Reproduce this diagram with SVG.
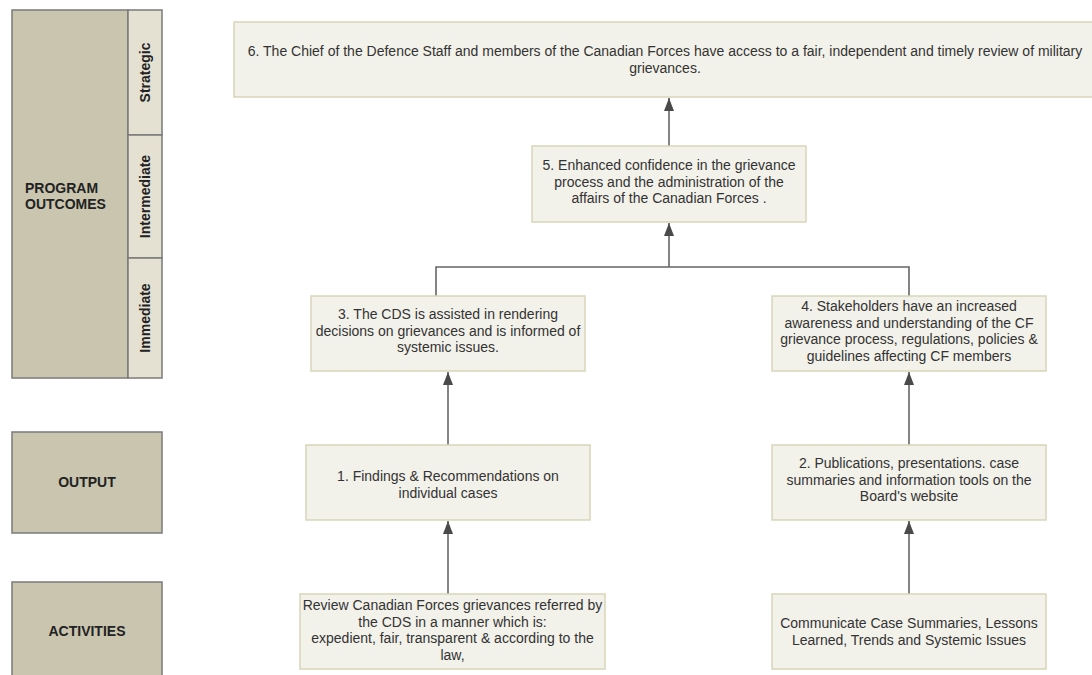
<svg xmlns="http://www.w3.org/2000/svg" width="1092" height="675" viewBox="0 0 1092 675">
<defs>
<style>
.lbl{fill:#c9c5af;stroke:#7a7a7a;stroke-width:1.5}
.strip{fill:#e4e1d3;stroke:#7a7a7a;stroke-width:1.5}
.node{fill:#f2f1ea;stroke:#d9d5ba;stroke-width:1.5}
.t{font-family:"Liberation Sans",Arial,sans-serif;font-size:14px;fill:#333;text-anchor:middle}
.b{font-family:"Liberation Sans",Arial,sans-serif;font-size:14px;font-weight:bold;fill:#222}
.c{stroke:#666;stroke-width:1.6;fill:none}
</style>
<marker id="ah" viewBox="0 0 13 10" refX="13" refY="5" markerWidth="13" markerHeight="10" markerUnits="userSpaceOnUse" orient="auto">
<path d="M0,0 L13,5 L0,10 Z" fill="#4a4a4a"/>
</marker>
</defs>
<rect width="1092" height="675" fill="#fff"/>

<g id="program-outcomes">
<rect class="lbl" x="12" y="10" width="116" height="368"/>
<text class="b" x="25" y="193">PROGRAM</text>
<text class="b" x="25" y="209">OUTCOMES</text>
</g>
<g id="strategic">
<rect class="strip" x="128" y="10" width="34" height="125"/>
<text class="b" transform="translate(150,72.5) rotate(-90)" text-anchor="middle">Strategic</text>
</g>
<g id="intermediate">
<rect class="strip" x="128" y="135" width="34" height="123"/>
<text class="b" transform="translate(150,196.5) rotate(-90)" text-anchor="middle">Intermediate</text>
</g>
<g id="immediate">
<rect class="strip" x="128" y="258" width="34" height="120"/>
<text class="b" transform="translate(150,318) rotate(-90)" text-anchor="middle">Immediate</text>
</g>
<g id="output">
<rect class="lbl" x="12" y="432" width="150" height="101"/>
<text class="b" x="87" y="487" text-anchor="middle">OUTPUT</text>
</g>
<g id="activities">
<rect class="lbl" x="12" y="582" width="150" height="110"/>
<text class="b" x="87" y="636" text-anchor="middle">ACTIVITIES</text>
</g>

<g id="connectors">
<line class="c" x1="669" y1="146" x2="669" y2="98" marker-end="url(#ah)"/>
<line class="c" x1="669" y1="267" x2="669" y2="223" marker-end="url(#ah)"/>
<polyline class="c" points="436,296 436,267 909,267 909,296"/>
<line class="c" x1="448" y1="445" x2="448" y2="372" marker-end="url(#ah)"/>
<line class="c" x1="448" y1="594" x2="448" y2="521" marker-end="url(#ah)"/>
<line class="c" x1="909" y1="445" x2="909" y2="372" marker-end="url(#ah)"/>
<line class="c" x1="909" y1="594" x2="909" y2="521" marker-end="url(#ah)"/>
</g>

<g id="n6">
<rect class="node" x="234" y="22" width="870" height="75"/>
<text class="t" x="665" y="56">6. The Chief of the Defence Staff and members of the Canadian Forces have access to a fair, independent and timely review of military</text>
<text class="t" x="665" y="72.5">grievances.</text>
</g>
<g id="n5">
<rect class="node" x="532" y="146" width="274" height="76"/>
<text class="t" x="669" y="170">5. Enhanced confidence in the grievance</text>
<text class="t" x="669" y="186.5">process and the administration of the</text>
<text class="t" x="669" y="203">affairs of the Canadian Forces .</text>
</g>
<g id="n3">
<rect class="node" x="311" y="296" width="274" height="75"/>
<text class="t" x="448" y="319">3. The CDS is assisted in rendering</text>
<text class="t" x="448" y="335.5">decisions on grievances and is informed of</text>
<text class="t" x="448" y="352">systemic issues.</text>
</g>
<g id="n4">
<rect class="node" x="772" y="296" width="274" height="75"/>
<text class="t" x="909" y="311">4. Stakeholders have an increased</text>
<text class="t" x="909" y="327.5">awareness and understanding of the CF</text>
<text class="t" x="909" y="344">grievance process, regulations, policies &amp;</text>
<text class="t" x="909" y="360.5">guidelines affecting CF members</text>
</g>
<g id="n1">
<rect class="node" x="306" y="445" width="284" height="75"/>
<text class="t" x="448" y="481">1. Findings &amp; Recommendations on</text>
<text class="t" x="448" y="497.5">individual cases</text>
</g>
<g id="n2">
<rect class="node" x="772" y="445" width="274" height="75"/>
<text class="t" x="909" y="468">2. Publications, presentations. case</text>
<text class="t" x="909" y="484.5">summaries  and information tools on the</text>
<text class="t" x="909" y="501">Board's website</text>
</g>
<g id="a1">
<rect class="node" x="300" y="594" width="305" height="75"/>
<text class="t" x="452.5" y="610">Review Canadian Forces grievances referred by</text>
<text class="t" x="452.5" y="626.5">the CDS in a manner which is:</text>
<text class="t" x="452.5" y="643">expedient, fair, transparent &amp; according to the</text>
<text class="t" x="452.5" y="659.5">law,</text>
</g>
<g id="a2">
<rect class="node" x="772" y="594" width="274" height="75"/>
<text class="t" x="909" y="628">Communicate Case Summaries, Lessons</text>
<text class="t" x="909" y="644.5">Learned, Trends and Systemic Issues</text>
</g>
</svg>
